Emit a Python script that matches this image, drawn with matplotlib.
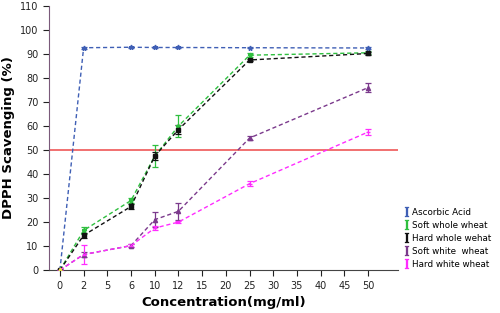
import matplotlib
matplotlib.use('Agg')
import matplotlib.pyplot as plt
from matplotlib.lines import Line2D

plt.rcParams['mathtext.fontset'] = 'dejavuserif'

# categorical x axis, evenly spaced labels
x_labels = ['0', '2', '5', '6', '10', '12', '15', '20', '25', '30', '35', '40', '45', '50']
conc = ['0', '2', '6', '10', '12', '25', '50']

ascorbic = [0, 92.6, 92.8, 92.7, 92.7, 92.6, 92.5]
ascorbic_err = [0, 0.4, 0.3, 0.3, 0.3, 0.3, 0.4]
soft_whole = [0, 16.5, 29.0, 47.5, 60.0, 89.5, 90.5]
soft_whole_err = [0, 1.5, 1.2, 4.5, 4.5, 0.8, 0.6]
hard_whole = [0, 14.5, 26.5, 47.5, 58.5, 87.5, 90.2]
hard_whole_err = [0, 1.0, 1.2, 1.5, 2.0, 0.5, 0.5]
soft_white = [0, 6.5, 10.2, 21.0, 24.5, 55.0, 76.0]
soft_white_err = [0, 1.0, 0.5, 3.0, 3.5, 1.0, 2.0]
hard_white = [0, 6.5, 10.2, 17.5, 20.0, 36.0, 57.5]
hard_white_err = [0, 3.8, 0.5, 0.8, 0.5, 1.0, 1.2]

names = ['Ascorbic Acid', 'Soft whole wheat', 'Hard whole wehat', 'Soft white  wheat', 'Hard white wheat']
colors = ['#3f5fb5', '#2fbf3f', '#111111', '#7b3a8c', '#ff2cff']
markers = ['*', '*', 's', '^', '_']
msizes = [3.5, 3.5, 2.3, 3, 3]
series = [(ascorbic, ascorbic_err), (soft_whole, soft_whole_err), (hard_whole, hard_whole_err),
          (soft_white, soft_white_err), (hard_white, hard_white_err)]

pos = [x_labels.index(c) for c in conc]

fig = plt.figure(figsize=(5, 3.13), dpi=100)
ax = fig.add_axes([0.098, 0.137, 0.698, 0.844])

ax.axhline(50, color='#f06464', lw=1.3, zorder=1)

for (vals, err), col, mk, ms in zip(series, colors, markers, msizes):
    ax.errorbar(pos, vals, yerr=err, color=col, ls=(0, (3, 2)), lw=1.0,
                marker=mk, ms=ms, capsize=2, elinewidth=0.9, capthick=0.9, zorder=3)

ax.plot([0], [0], marker='^', color='#e8e040', ms=3.5, zorder=4)

ax.set_xlim(-0.46, 14.26)
ax.set_ylim(0, 110)
ax.set_xticks(range(len(x_labels)))
ax.set_xticklabels(x_labels)
ax.set_yticks(range(0, 111, 10))
ax.tick_params(labelsize=7, length=4, width=0.8, colors='#222222')
ax.spines['top'].set_visible(False)
ax.spines['right'].set_visible(False)
ax.spines['left'].set_color('#7a5a7a')
ax.spines['bottom'].set_color('#444444')

ax.set_xlabel('Concentration(mg/ml)', fontsize=9.5, fontweight='bold', labelpad=4)
ax.set_ylabel('DPPH Scavenging (%)', fontsize=9.5, fontweight='bold', labelpad=4)

handles = [Line2D([], [], ls='none', marker='$\\mathrm{I}$', color=c, ms=7, mew=0.2) for c in colors]
leg = fig.legend(handles, names, loc='upper left', bbox_to_anchor=(0.81, 0.335),
                 frameon=False, fontsize=6.3, handlelength=0.5, handletextpad=0.35,
                 labelspacing=0.45, borderaxespad=0, borderpad=0)

fig.savefig('out.png', dpi=100)
